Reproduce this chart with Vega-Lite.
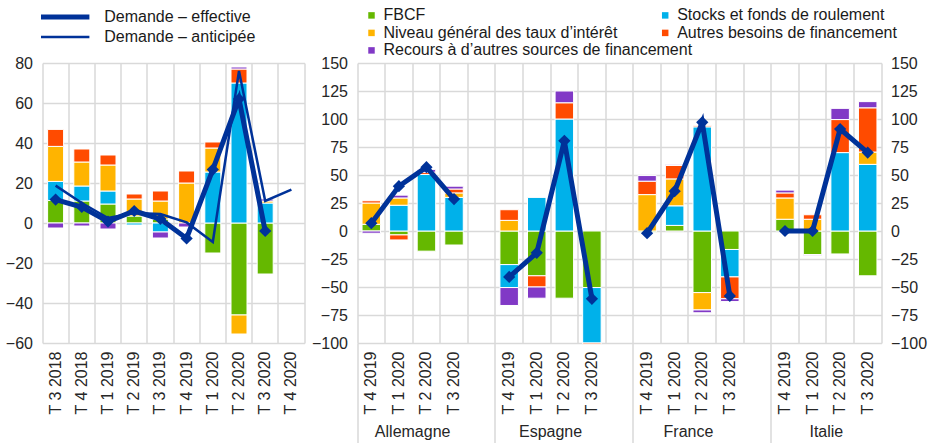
{
  "$schema": "https://vega.github.io/schema/vega-lite/v6.json",
  "padding": {"left": 4.5, "top": 7, "right": 0, "bottom": 0},
  "background": "white",
  "config": {
    "font": "Liberation Sans",
    "view": {"stroke": null},
    "axis": {"labelFont": "Liberation Sans", "labelFontSize": 16, "labelColor": "#262626", "domain": false, "gridColor": "#d9d9d9", "gridWidth": 1.5},
    "legend": {"labelFont": "Liberation Sans", "labelFontSize": 16, "labelColor": "#1a1a1a", "labelLimit": 500}
  },
  "datasets": {
    "ea_bars": [
      {"period": "T 3 2018", "component": "FBCF", "value": 11.3},
      {"period": "T 3 2018", "component": "Stocks et fonds de roulement", "value": 9.5},
      {"period": "T 3 2018", "component": "Niveau général des taux d’intérêt", "value": 17.5},
      {"period": "T 3 2018", "component": "Autres besoins de financement", "value": 8.5},
      {"period": "T 3 2018", "component": "Recours à d’autres sources de financement", "value": -2.5},
      {"period": "T 4 2018", "component": "FBCF", "value": 11},
      {"period": "T 4 2018", "component": "Stocks et fonds de roulement", "value": 7.5},
      {"period": "T 4 2018", "component": "Niveau général des taux d’intérêt", "value": 12},
      {"period": "T 4 2018", "component": "Autres besoins de financement", "value": 6.5},
      {"period": "T 4 2018", "component": "Recours à d’autres sources de financement", "value": -1.5},
      {"period": "T 1 2019", "component": "FBCF", "value": 9.5},
      {"period": "T 1 2019", "component": "Stocks et fonds de roulement", "value": 6.5},
      {"period": "T 1 2019", "component": "Niveau général des taux d’intérêt", "value": 13},
      {"period": "T 1 2019", "component": "Autres besoins de financement", "value": 5},
      {"period": "T 1 2019", "component": "Recours à d’autres sources de financement", "value": -3},
      {"period": "T 2 2019", "component": "FBCF", "value": 3.5},
      {"period": "T 2 2019", "component": "Stocks et fonds de roulement", "value": -1},
      {"period": "T 2 2019", "component": "Niveau général des taux d’intérêt", "value": 8.5},
      {"period": "T 2 2019", "component": "Autres besoins de financement", "value": 2.5},
      {"period": "T 3 2019", "component": "FBCF", "value": 2},
      {"period": "T 3 2019", "component": "Stocks et fonds de roulement", "value": -4.5},
      {"period": "T 3 2019", "component": "Niveau général des taux d’intérêt", "value": 9},
      {"period": "T 3 2019", "component": "Autres besoins de financement", "value": 5},
      {"period": "T 3 2019", "component": "Recours à d’autres sources de financement", "value": -3},
      {"period": "T 4 2019", "component": "Niveau général des taux d’intérêt", "value": 20},
      {"period": "T 4 2019", "component": "Autres besoins de financement", "value": 6},
      {"period": "T 4 2019", "component": "Recours à d’autres sources de financement", "value": -2},
      {"period": "T 1 2020", "component": "FBCF", "value": -15},
      {"period": "T 1 2020", "component": "Stocks et fonds de roulement", "value": 25.5},
      {"period": "T 1 2020", "component": "Niveau général des taux d’intérêt", "value": 12},
      {"period": "T 1 2020", "component": "Autres besoins de financement", "value": 3},
      {"period": "T 2 2020", "component": "FBCF", "value": -46},
      {"period": "T 2 2020", "component": "Stocks et fonds de roulement", "value": 70},
      {"period": "T 2 2020", "component": "Niveau général des taux d’intérêt", "value": -9.5},
      {"period": "T 2 2020", "component": "Autres besoins de financement", "value": 7},
      {"period": "T 2 2020", "component": "Recours à d’autres sources de financement", "value": 1},
      {"period": "T 3 2020", "component": "FBCF", "value": -25.5},
      {"period": "T 3 2020", "component": "Stocks et fonds de roulement", "value": 10},
      {"period": "T 3 2020", "component": "Niveau général des taux d’intérêt", "value": 1},
      {"period": "T 3 2020", "component": "Recours à d’autres sources de financement", "value": 1}
    ],
    "ea_lines": [
      {"period": "T 3 2018", "series": "Demande – effective", "value": 11.7},
      {"period": "T 4 2018", "series": "Demande – effective", "value": 8},
      {"period": "T 1 2019", "series": "Demande – effective", "value": 0.7},
      {"period": "T 2 2019", "series": "Demande – effective", "value": 6},
      {"period": "T 3 2019", "series": "Demande – effective", "value": 2},
      {"period": "T 4 2019", "series": "Demande – effective", "value": -7.7},
      {"period": "T 1 2020", "series": "Demande – effective", "value": 26.7},
      {"period": "T 2 2020", "series": "Demande – effective", "value": 62},
      {"period": "T 3 2020", "series": "Demande – effective", "value": -4},
      {"period": "T 3 2018", "series": "Demande – anticipée", "value": 18.7},
      {"period": "T 4 2018", "series": "Demande – anticipée", "value": 10},
      {"period": "T 1 2019", "series": "Demande – anticipée", "value": 2.5},
      {"period": "T 2 2019", "series": "Demande – anticipée", "value": 5},
      {"period": "T 3 2019", "series": "Demande – anticipée", "value": 4.5},
      {"period": "T 4 2019", "series": "Demande – anticipée", "value": 0.3},
      {"period": "T 1 2020", "series": "Demande – anticipée", "value": -9.5},
      {"period": "T 2 2020", "series": "Demande – anticipée", "value": 76},
      {"period": "T 3 2020", "series": "Demande – anticipée", "value": 11},
      {"period": "T 4 2020", "series": "Demande – anticipée", "value": 16.7}
    ],
    "nat_bars": [
      {"country": "Allemagne", "period": "T 4 2019", "component": "FBCF", "value": 6},
      {"country": "Allemagne", "period": "T 4 2019", "component": "Niveau général des taux d’intérêt", "value": 19},
      {"country": "Allemagne", "period": "T 4 2019", "component": "Autres besoins de financement", "value": 2},
      {"country": "Allemagne", "period": "T 4 2019", "component": "Recours à d’autres sources de financement", "value": -2},
      {"country": "Allemagne", "period": "T 1 2020", "component": "FBCF", "value": -3.5},
      {"country": "Allemagne", "period": "T 1 2020", "component": "Stocks et fonds de roulement", "value": 23},
      {"country": "Allemagne", "period": "T 1 2020", "component": "Niveau général des taux d’intérêt", "value": 6.5},
      {"country": "Allemagne", "period": "T 1 2020", "component": "Autres besoins de financement", "value": -4.5},
      {"country": "Allemagne", "period": "T 1 2020", "component": "Recours à d’autres sources de financement", "value": 2.5},
      {"country": "Allemagne", "period": "T 2 2020", "component": "FBCF", "value": -18},
      {"country": "Allemagne", "period": "T 2 2020", "component": "Stocks et fonds de roulement", "value": 50.5},
      {"country": "Allemagne", "period": "T 2 2020", "component": "Autres besoins de financement", "value": 2},
      {"country": "Allemagne", "period": "T 2 2020", "component": "Recours à d’autres sources de financement", "value": 2.5},
      {"country": "Allemagne", "period": "T 3 2020", "component": "FBCF", "value": -12.5},
      {"country": "Allemagne", "period": "T 3 2020", "component": "Stocks et fonds de roulement", "value": 30},
      {"country": "Allemagne", "period": "T 3 2020", "component": "Niveau général des taux d’intérêt", "value": 4},
      {"country": "Allemagne", "period": "T 3 2020", "component": "Autres besoins de financement", "value": 3.5},
      {"country": "Allemagne", "period": "T 3 2020", "component": "Recours à d’autres sources de financement", "value": 2.5},
      {"country": "Espagne", "period": "T 4 2019", "component": "FBCF", "value": -30},
      {"country": "Espagne", "period": "T 4 2019", "component": "Stocks et fonds de roulement", "value": -20.5},
      {"country": "Espagne", "period": "T 4 2019", "component": "Niveau général des taux d’intérêt", "value": 9.5},
      {"country": "Espagne", "period": "T 4 2019", "component": "Autres besoins de financement", "value": 9.5},
      {"country": "Espagne", "period": "T 4 2019", "component": "Recours à d’autres sources de financement", "value": -16},
      {"country": "Espagne", "period": "T 1 2020", "component": "FBCF", "value": -40},
      {"country": "Espagne", "period": "T 1 2020", "component": "Stocks et fonds de roulement", "value": 30},
      {"country": "Espagne", "period": "T 1 2020", "component": "Autres besoins de financement", "value": -10},
      {"country": "Espagne", "period": "T 1 2020", "component": "Recours à d’autres sources de financement", "value": -10},
      {"country": "Espagne", "period": "T 2 2020", "component": "FBCF", "value": -60},
      {"country": "Espagne", "period": "T 2 2020", "component": "Stocks et fonds de roulement", "value": 100},
      {"country": "Espagne", "period": "T 2 2020", "component": "Autres besoins de financement", "value": 14.5},
      {"country": "Espagne", "period": "T 2 2020", "component": "Recours à d’autres sources de financement", "value": 10.5},
      {"country": "Espagne", "period": "T 3 2020", "component": "FBCF", "value": -50.5},
      {"country": "Espagne", "period": "T 3 2020", "component": "Stocks et fonds de roulement", "value": -49.5},
      {"country": "Espagne", "period": "T 3 2020", "component": "Autres besoins de financement", "value": -1},
      {"country": "France", "period": "T 4 2019", "component": "FBCF", "value": -1},
      {"country": "France", "period": "T 4 2019", "component": "Niveau général des taux d’intérêt", "value": 32.5},
      {"country": "France", "period": "T 4 2019", "component": "Autres besoins de financement", "value": 12},
      {"country": "France", "period": "T 4 2019", "component": "Recours à d’autres sources de financement", "value": 5},
      {"country": "France", "period": "T 1 2020", "component": "FBCF", "value": 5},
      {"country": "France", "period": "T 1 2020", "component": "Stocks et fonds de roulement", "value": 17.5},
      {"country": "France", "period": "T 1 2020", "component": "Niveau général des taux d’intérêt", "value": 24},
      {"country": "France", "period": "T 1 2020", "component": "Autres besoins de financement", "value": 12},
      {"country": "France", "period": "T 1 2020", "component": "Recours à d’autres sources de financement", "value": 1},
      {"country": "France", "period": "T 2 2020", "component": "FBCF", "value": -55},
      {"country": "France", "period": "T 2 2020", "component": "Stocks et fonds de roulement", "value": 93},
      {"country": "France", "period": "T 2 2020", "component": "Niveau général des taux d’intérêt", "value": -15.5},
      {"country": "France", "period": "T 2 2020", "component": "Autres besoins de financement", "value": 1},
      {"country": "France", "period": "T 2 2020", "component": "Recours à d’autres sources de financement", "value": -2.5},
      {"country": "France", "period": "T 3 2020", "component": "FBCF", "value": -16.5},
      {"country": "France", "period": "T 3 2020", "component": "Stocks et fonds de roulement", "value": -24.5},
      {"country": "France", "period": "T 3 2020", "component": "Autres besoins de financement", "value": -19.5},
      {"country": "France", "period": "T 3 2020", "component": "Recours à d’autres sources de financement", "value": -2.5},
      {"country": "Italie", "period": "T 4 2019", "component": "FBCF", "value": 10.5},
      {"country": "Italie", "period": "T 4 2019", "component": "Niveau général des taux d’intérêt", "value": 19},
      {"country": "Italie", "period": "T 4 2019", "component": "Autres besoins de financement", "value": 4.5},
      {"country": "Italie", "period": "T 4 2019", "component": "Recours à d’autres sources de financement", "value": 2.5},
      {"country": "Italie", "period": "T 1 2020", "component": "FBCF", "value": -21},
      {"country": "Italie", "period": "T 1 2020", "component": "Niveau général des taux d’intérêt", "value": 10.5},
      {"country": "Italie", "period": "T 1 2020", "component": "Autres besoins de financement", "value": 4},
      {"country": "Italie", "period": "T 1 2020", "component": "Recours à d’autres sources de financement", "value": -1},
      {"country": "Italie", "period": "T 2 2020", "component": "FBCF", "value": -20.5},
      {"country": "Italie", "period": "T 2 2020", "component": "Stocks et fonds de roulement", "value": 70},
      {"country": "Italie", "period": "T 2 2020", "component": "Autres besoins de financement", "value": 29.5},
      {"country": "Italie", "period": "T 2 2020", "component": "Recours à d’autres sources de financement", "value": 10},
      {"country": "Italie", "period": "T 3 2020", "component": "FBCF", "value": -40},
      {"country": "Italie", "period": "T 3 2020", "component": "Stocks et fonds de roulement", "value": 59.5},
      {"country": "Italie", "period": "T 3 2020", "component": "Niveau général des taux d’intérêt", "value": 11},
      {"country": "Italie", "period": "T 3 2020", "component": "Autres besoins de financement", "value": 39.5},
      {"country": "Italie", "period": "T 3 2020", "component": "Recours à d’autres sources de financement", "value": 5.5}
    ],
    "nat_lines": [
      {"country": "Allemagne", "period": "T 4 2019", "value": 7},
      {"country": "Allemagne", "period": "T 1 2020", "value": 40},
      {"country": "Allemagne", "period": "T 2 2020", "value": 57},
      {"country": "Allemagne", "period": "T 3 2020", "value": 28.5},
      {"country": "Espagne", "period": "T 4 2019", "value": -41},
      {"country": "Espagne", "period": "T 1 2020", "value": -19.5},
      {"country": "Espagne", "period": "T 2 2020", "value": 80.5},
      {"country": "Espagne", "period": "T 3 2020", "value": -60.5},
      {"country": "France", "period": "T 4 2019", "value": -2},
      {"country": "France", "period": "T 1 2020", "value": 35.5},
      {"country": "France", "period": "T 2 2020", "value": 97},
      {"country": "France", "period": "T 3 2020", "value": -58},
      {"country": "Italie", "period": "T 4 2019", "value": 0},
      {"country": "Italie", "period": "T 1 2020", "value": 0},
      {"country": "Italie", "period": "T 2 2020", "value": 91},
      {"country": "Italie", "period": "T 3 2020", "value": 70}
    ]
  },
  "hconcat": [
    {
      "width": 262,
      "height": 280,
      "layer": [
        {
          "data": {"name": "ea_bars"},
          "transform": [
            {"calculate": "indexof(['FBCF','Stocks et fonds de roulement','Niveau général des taux d’intérêt','Autres besoins de financement','Recours à d’autres sources de financement'], datum.component)", "as": "ord"}
          ],
          "mark": {"type": "bar", "width": 16, "stroke": "white", "strokeWidth": 1},
          "encoding": {
            "x": {
              "field": "period", "type": "nominal", "title": null,
              "scale": {"domain": ["T 3 2018", "T 4 2018", "T 1 2019", "T 2 2019", "T 3 2019", "T 4 2019", "T 1 2020", "T 2 2020", "T 3 2020", "T 4 2020"], "paddingInner": 0, "paddingOuter": 0},
              "axis": {"labelAngle": -90, "labelAlign": "right", "labelBaseline": "middle", "labelPadding": 8, "ticks": false, "bandPosition": 0, "grid": true, "labelOverlap": false}
            },
            "y": {
              "field": "value", "type": "quantitative", "stack": "zero", "title": null,
              "scale": {"domain": [-60, 80], "nice": false},
              "axis": {"orient": "left", "values": [-60, -40, -20, 0, 20, 40, 60, 80], "ticks": false, "labelPadding": 10, "grid": true, "labelOverlap": false}
            },
            "color": {
              "field": "component", "type": "nominal", "title": null,
              "scale": {"domain": ["FBCF", "Stocks et fonds de roulement", "Niveau général des taux d’intérêt", "Autres besoins de financement", "Recours à d’autres sources de financement"], "range": ["#65B800", "#00B1EA", "#FFB400", "#FF4B00", "#8139C6"]},
              "legend": {"orient": "none", "legendX": 614.7, "legendY": -55.6, "values": ["Stocks et fonds de roulement", "Autres besoins de financement"], "symbolType": "square", "symbolSize": 42, "symbolStrokeWidth": 0, "rowPadding": 1.5, "labelOffset": 4, "labelLimit": 500, "direction": "vertical"}
            },
            "order": {"field": "ord", "type": "quantitative"}
          }
        },
        {
          "data": {"name": "ea_lines"},
          "mark": {"type": "line", "color": "#003299"},
          "encoding": {
            "x": {"field": "period", "type": "nominal"},
            "y": {
              "field": "value", "type": "quantitative",
              "axis": {"orient": "right", "labels": false, "ticks": false, "grid": false, "domain": true, "domainColor": "#d9d9d9", "domainWidth": 1.5, "title": null}
            },
            "strokeWidth": {
              "field": "series", "type": "nominal", "title": null,
              "scale": {"domain": ["Demande – effective", "Demande – anticipée"], "range": [5, 2.5]},
              "legend": {"orient": "none", "legendX": -4.3, "legendY": -56, "symbolType": "stroke", "symbolSize": 2343, "clipHeight": 20, "rowPadding": 0, "labelOffset": 12, "labelLimit": 500, "symbolStrokeColor": "#003299", "direction": "vertical"}
            }
          }
        },
        {
          "data": {"name": "ea_lines"},
          "transform": [{"filter": "datum.series === 'Demande – effective'"}],
          "mark": {"type": "point", "shape": "diamond", "filled": true, "size": 150, "color": "#003299", "opacity": 1},
          "encoding": {
            "x": {"field": "period", "type": "nominal"},
            "y": {"field": "value", "type": "quantitative", "axis": null}
          }
        }
      ],
      "resolve": {"axis": {"y": "independent"}}
    },
    {
      "width": 524,
      "height": 280,
      "layer": [
        {
          "data": {"name": "nat_bars"},
          "transform": [
            {"calculate": "datum.country + '|' + datum.period", "as": "key"},
            {"calculate": "indexof(['FBCF','Stocks et fonds de roulement','Niveau général des taux d’intérêt','Autres besoins de financement','Recours à d’autres sources de financement'], datum.component)", "as": "ord"}
          ],
          "mark": {"type": "bar", "width": 18.5, "stroke": "white", "strokeWidth": 1},
          "encoding": {
            "x": {
              "field": "key", "type": "nominal", "title": null,
              "scale": {"domain": ["Allemagne|T 4 2019", "Allemagne|T 1 2020", "Allemagne|T 2 2020", "Allemagne|T 3 2020", "gap1", "Espagne|T 4 2019", "Espagne|T 1 2020", "Espagne|T 2 2020", "Espagne|T 3 2020", "gap2", "France|T 4 2019", "France|T 1 2020", "France|T 2 2020", "France|T 3 2020", "gap3", "Italie|T 4 2019", "Italie|T 1 2020", "Italie|T 2 2020", "Italie|T 3 2020"], "paddingInner": 0, "paddingOuter": 0},
              "axis": {
                "orient": "bottom",
                "labelAngle": -90, "labelAlign": "right", "labelBaseline": "middle", "labelPadding": 8, "labelOverlap": false,
                "labelExpr": "indexof(datum.value, '|') >= 0 ? split(datum.value, '|')[1] : ''",
                "ticks": false, "bandPosition": 0,
                "grid": true
              }
            },
            "y": {
              "field": "value", "type": "quantitative", "stack": "zero", "title": null,
              "scale": {"domain": [-100, 150], "nice": false},
              "axis": {"orient": "left", "values": [-100, -75, -50, -25, 0, 25, 50, 75, 100, 125, 150], "ticks": false, "labelPadding": 10, "grid": true, "labelOverlap": false}
            },
            "color": {
              "field": "component", "type": "nominal", "title": null,
              "scale": {"domain": ["FBCF", "Stocks et fonds de roulement", "Niveau général des taux d’intérêt", "Autres besoins de financement", "Recours à d’autres sources de financement"], "range": ["#65B800", "#00B1EA", "#FFB400", "#FF4B00", "#8139C6"]},
              "legend": {"orient": "none", "legendX": 6, "legendY": -55.6, "values": ["FBCF", "Niveau général des taux d’intérêt", "Recours à d’autres sources de financement"], "symbolType": "square", "symbolSize": 42, "symbolStrokeWidth": 0, "rowPadding": 1.5, "labelOffset": 4, "labelLimit": 500, "direction": "vertical"}
            },
            "order": {"field": "ord", "type": "quantitative"}
          }
        },
        {
          "data": {"name": "nat_lines"},
          "transform": [{"calculate": "datum.country + '|' + datum.period", "as": "key"}],
          "mark": {"type": "line", "color": "#003299", "strokeWidth": 5},
          "encoding": {
            "x": {
              "field": "key", "type": "nominal", "title": null,
              "axis": {"orient": "bottom", "values": ["Allemagne|T 2 2020", "Espagne|T 2 2020", "France|T 2 2020", "Italie|T 2 2020"], "labelExpr": "split(datum.value, '|')[0]", "labelAngle": 0, "labelAlign": "center", "labelBaseline": "top", "labelPadding": 80, "labelOffset": -13.8, "ticks": false, "grid": false, "labelOverlap": false}
            },
            "y": {
              "field": "value", "type": "quantitative", "title": null,
              "axis": {"orient": "right", "values": [-100, -75, -50, -25, 0, 25, 50, 75, 100, 125, 150], "ticks": false, "labelPadding": 9, "grid": false, "labelOverlap": false, "domain": true, "domainColor": "#d9d9d9", "domainWidth": 1.5}
            },
            "detail": {"field": "country"}
          }
        },
        {
          "data": {"name": "nat_lines"},
          "transform": [{"calculate": "datum.country + '|' + datum.period", "as": "key"}],
          "mark": {"type": "point", "shape": "diamond", "filled": true, "size": 150, "color": "#003299", "opacity": 1},
          "encoding": {
            "x": {
              "field": "key", "type": "nominal", "title": null,
              "axis": {"orient": "bottom", "values": ["Allemagne|T 4 2019", "Espagne|T 4 2019", "France|T 4 2019", "Italie|T 4 2019"], "bandPosition": 0, "labels": false, "ticks": true, "tickSize": 100, "tickColor": "#d9d9d9", "tickWidth": 1.5, "grid": false, "domain": false}
            },
            "y": {"field": "value", "type": "quantitative", "axis": null}
          }
        }
      ],
      "resolve": {"axis": {"x": "independent", "y": "independent"}}
    }
  ],
  "spacing": 53,
  "bounds": "flush",
  "resolve": {"scale": {"color": "independent", "strokeWidth": "independent"}}
}
